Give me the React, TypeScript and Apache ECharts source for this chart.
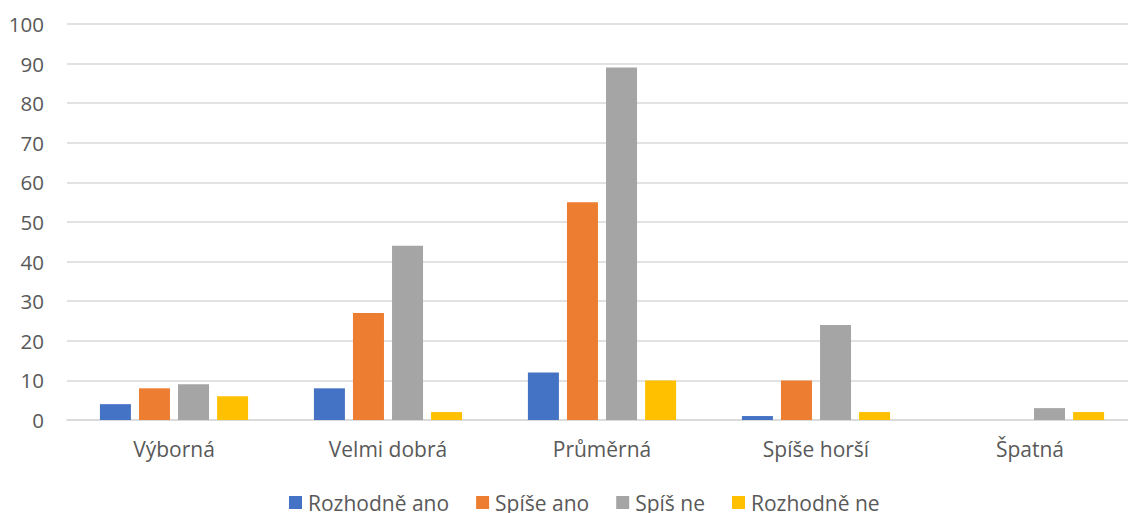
import React, { useEffect, useRef } from "react";
import * as echarts from "echarts";

const categories = ["Výborná", "Velmi dobrá", "Průměrná", "Spíše horší", "Špatná"];
const seriesNames = ["Rozhodně ano", "Spíše ano", "Spíš ne", "Rozhodně ne"];
const rozhodneAno = [4, 8, 12, 1, 0];
const spiseAno = [8, 27, 55, 10, 0];
const spisNe = [9, 44, 89, 24, 3];
const rozhodneNe = [6, 2, 10, 2, 2];
const colors = ["#4472C4", "#ED7D31", "#A5A5A5", "#FFC000"];

export default function App() {
  const ref = useRef<HTMLDivElement>(null);
  useEffect(() => {
    if (!ref.current) return;
    const chart = echarts.init(ref.current, undefined, { renderer: "svg" });
    const font = "'Open Sans', 'Noto Sans', sans-serif";
    const data = [rozhodneAno, spiseAno, spisNe, rozhodneNe];
    chart.setOption({
      animation: false,
      backgroundColor: "#ffffff",
      textStyle: { fontFamily: font },
      grid: { left: 67, right: 0, top: 24, bottom: 93, containLabel: false },
      legend: {
        top: 492,
        left: 289,
        padding: 0,
        itemWidth: 13,
        itemHeight: 13,
        itemGap: 27,
        icon: "rect",
        textStyle: { color: "#595959", fontSize: 21, fontFamily: font, padding: [0, 0, 0, 1] },
        data: seriesNames,
      },
      xAxis: {
        type: "category",
        data: categories,
        axisLine: { lineStyle: { color: "#D9D9D9", width: 1.5 } },
        axisTick: { show: false },
        axisLabel: { color: "#595959", fontSize: 21, margin: 18, fontFamily: font },
      },
      yAxis: {
        type: "value",
        min: 0,
        max: 100,
        interval: 10,
        axisLine: { show: false },
        axisTick: { show: false },
        splitLine: { lineStyle: { color: "#D9D9D9", width: 1.5 } },
        axisLabel: { color: "#595959", fontSize: 20.5, margin: 23, fontFamily: font },
      },
      series: seriesNames.map((name, i) => ({
        name,
        type: "bar",
        data: data[i],
        barWidth: 31,
        barGap: "26%",
        itemStyle: { color: colors[i] },
      })),
    });
    return () => chart.dispose();
  }, []);
  return (
    <div style={{ position: "fixed", left: 0, top: 0, width: 1128, height: 513, overflow: "hidden", background: "#fff" }}>
      <div
        ref={ref}
        style={{ position: "absolute", left: 0, top: 0, width: 1137, height: 513 }}
      />
    </div>
  );
}
